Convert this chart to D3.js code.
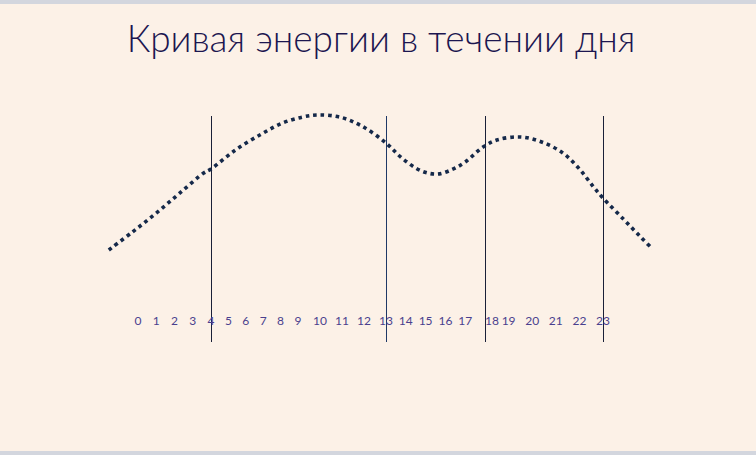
<!DOCTYPE html>
<html>
<head>
<meta charset="utf-8">
<script src="https://cdn.jsdelivr.net/npm/d3@7"></script>
<style>
  html, body { margin: 0; padding: 0; background: #d3d6de; }
  #canvas { display: block; }
</style>
</head>
<body>
<svg id="canvas"></svg>
<script>
let title = 'Кривая энергии в течении дня';

// hours shown on the axis
let hours = [0, 1, 2, 3, 4, 5, 6, 7, 8, 9, 10, 11, 12, 13, 14, 15, 16, 17, 18, 19, 20, 21, 22, 23];
// hours marked with vertical lines
let markHours = [4, 13, 18, 23];

// energy curve: hour and energy level (0..100)
let curveHours = [-1.6, -0.3, 1, 2.3, 3.6, 4, 5.4, 6.9, 8.1, 9.2, 9.9, 10.9, 11.9, 13, 13.8, 14.8, 15.6, 16.4, 17, 17.9, 18.5, 19.5, 20.4, 21.3, 22, 22.6, 23, 23.9, 24.6, 25.1];
let curveEnergy = [6.7, 18.7, 31.3, 44.7, 58, 60.7, 73.3, 84, 91.3, 95.3, 96.7, 95.3, 89.3, 78, 68, 59.3, 57.3, 60.7, 65.3, 75.3, 80, 82, 78.7, 71.3, 60.7, 48.7, 41.3, 26.7, 15.3, 7.3];

let width = 756;
let height = 455;

let canvas = d3.select('#canvas')
    .attr('width', width)
    .attr('height', height);

canvas.append('rect')
    .attr('x', 0)
    .attr('y', 4)
    .attr('width', width)
    .attr('height', 447)
    .attr('fill', '#fcf1e7');

// the hour labels are not evenly spaced in the original, so a piecewise scale
let xScale = d3.scaleLinear()
    .domain([0, 4, 9, 13, 18, 23])
    .range([138, 211, 298, 386, 485, 603]);

let yScale = d3.scaleLinear()
    .domain([0, 100])
    .range([260, 110]);

canvas.append('text')
    .attr('x', width / 2 + 3)
    .attr('y', 52)
    .attr('text-anchor', 'middle')
    .attr('font-family', 'Lato, "Noto Sans", sans-serif')
    .attr('font-weight', 300)
    .attr('font-size', 37)
    .attr('fill', '#1c1650')
    .text(title);

canvas.selectAll('line.mark')
    .data(markHours)
    .enter()
    .append('line')
    .attr('class', 'mark')
    .attr('x1', d => Math.round(xScale(d)) + 0.5)
    .attr('x2', d => Math.round(xScale(d)) + 0.5)
    .attr('y1', 116)
    .attr('y2', 342)
    .attr('stroke', d => d === 13 ? '#1f3866' : '#1a2038')
    .attr('stroke-width', 1);

let points = curveHours.map((h, i) => [h, curveEnergy[i]]);

let line = d3.line()
    .x(d => xScale(d[0]))
    .y(d => yScale(d[1]))
    .curve(d3.curveCatmullRom.alpha(0.5));

canvas.append('path')
    .datum(points)
    .attr('d', line)
    .attr('fill', 'none')
    .attr('stroke', '#15294a')
    .attr('stroke-width', 3.6)
    .attr('stroke-dasharray', '3.6 3.9');

canvas.selectAll('text.hour')
    .data(hours)
    .enter()
    .append('text')
    .attr('class', 'hour')
    .attr('x', d => xScale(d) + (d === 18 ? 7 : 0))
    .attr('y', 325)
    .attr('text-anchor', 'middle')
    .attr('font-family', 'Lato, "Noto Sans", sans-serif')
    .attr('font-size', 12)
    .attr('fill', '#4a3f8e')
    .text(d => d);
</script>
</body>
</html>
